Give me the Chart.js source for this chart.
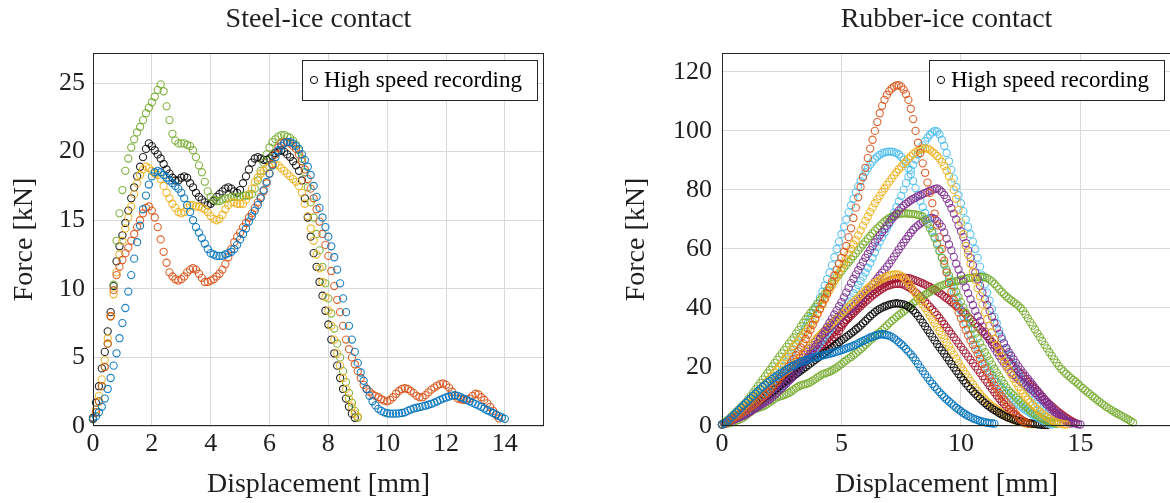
<!DOCTYPE html>
<html>
<head>
<meta charset="utf-8">
<script src="https://cdn.jsdelivr.net/npm/chart.js@4.4.0/dist/chart.umd.min.js"></script>
<style>
  html, body { margin: 0; padding: 0; background: #fff; width: 1170px; height: 503px; overflow: hidden; }
  .panel { position: absolute; top: 0; height: 503px; }
  #leftPanel { left: 0; width: 580px; }
  #rightPanel { left: 600px; width: 600px; }
</style>
</head>
<body>
<div class="panel" id="leftPanel"><canvas id="steelChart" width="580" height="503"></canvas></div>
<div class="panel" id="rightPanel"><canvas id="rubberChart" width="600" height="503"></canvas></div>
<script>
// force readings [kN], one value every STEP mm of displacement, starting at 0
const STEEL_STEP = 0.1;
const steelBlue = [
  0.5, 0.7, 1.0, 1.4, 2.0, 2.7, 3.5, 4.4, 5.3, 6.4,
  7.5, 8.6, 9.8, 11.0, 12.2, 13.4, 14.6, 15.8, 16.8, 17.6,
  18.2, 18.5, 18.6, 18.5, 18.3, 18.1, 17.9, 17.7, 17.5, 17.3,
  17.0, 16.6, 16.1, 15.6, 15.0, 14.5, 14.1, 13.7, 13.3, 12.9,
  12.6, 12.5, 12.4, 12.4, 12.4, 12.5, 12.6, 12.7, 12.9, 13.2,
  13.6, 14.0, 14.4, 14.9, 15.3, 15.7, 16.1, 16.6, 17.2, 17.8,
  18.4, 19.0, 19.6, 20.1, 20.4, 20.6, 20.7, 20.7, 20.6, 20.4,
  20.2, 19.8, 19.4, 18.9, 18.3, 17.5, 16.7, 15.9, 15.2, 14.5,
  13.8, 13.1, 12.3, 11.4, 10.4, 9.3, 8.3, 7.3, 6.3, 5.4,
  4.6, 3.9, 3.3, 2.7, 2.2, 1.8, 1.5, 1.25, 1.1, 1.0,
  0.93, 0.9, 0.9, 0.9, 0.92, 0.95, 1.0, 1.1, 1.2, 1.28,
  1.33, 1.38, 1.43, 1.48, 1.55, 1.62, 1.7, 1.8, 1.9, 2.0,
  2.08, 2.15, 2.22, 2.25, 2.2, 2.1, 2.0, 1.9, 1.8, 1.7,
  1.6, 1.5, 1.4, 1.28, 1.15, 1.05, 0.95, 0.85, 0.72, 0.62,
  0.52
];
const steelOrange = [
  0.5, 1.0, 1.8, 2.9, 4.3, 6.0, 8.0, 9.9, 11.0, 11.6,
  12.1, 12.6, 13.0, 13.5, 14.0, 14.5, 15.0, 15.5, 15.9, 16.0,
  15.7, 15.2, 14.5, 13.6, 12.7, 11.9, 11.2, 10.9, 10.7, 10.6,
  10.7, 10.9, 11.2, 11.4, 11.5, 11.4, 11.1, 10.8, 10.5, 10.5,
  10.6, 10.7, 10.9, 11.1, 11.4, 11.8, 12.3, 12.9, 13.4, 13.8,
  14.1, 14.5, 14.8, 15.2, 15.5, 15.9, 16.3, 16.7, 17.1, 17.7,
  18.4, 19.1, 19.8, 20.3, 20.6, 20.7, 20.7, 20.6, 20.4, 20.2,
  19.8, 19.3, 18.7, 18.0, 17.3, 16.6, 15.8, 14.9, 14.0, 13.2,
  12.4, 11.3, 10.2, 9.2, 8.3, 7.3, 6.3, 5.6, 5.0, 4.5,
  4.0, 3.5, 3.0, 2.7, 2.5, 2.3, 2.2, 2.1, 1.95, 1.85,
  1.8, 1.9, 2.1, 2.35, 2.55, 2.7, 2.75, 2.7, 2.55, 2.4,
  2.2, 2.1, 2.1, 2.25, 2.45, 2.65, 2.8, 2.95, 3.05, 3.1,
  3.0, 2.8, 2.5, 2.2, 2.0, 1.95, 1.9, 1.9, 2.0, 2.2,
  2.35, 2.3, 2.1, 1.9, 1.65, 1.4, 1.1, 0.8, 0.55
];
const steelYellow = [
  0.5, 1.2, 2.2, 3.4, 4.8, 6.4, 8.0, 9.6, 11.2, 12.5,
  13.5, 14.4, 15.2, 16.0, 16.9, 17.7, 18.3, 18.7, 18.9, 18.8,
  18.6, 18.4, 18.3, 18.0, 17.5, 17.0, 16.6, 16.2, 15.9, 15.6,
  15.5, 15.6, 15.9, 16.1, 16.1, 16.0, 16.0, 15.9, 15.8, 15.6,
  15.3, 15.1, 15.0, 15.1, 15.4, 15.8, 16.1, 16.3, 16.3, 16.2,
  16.2, 16.2, 16.5, 16.9, 17.3, 17.8, 18.1, 18.4, 18.6, 18.8,
  18.9, 19.0, 19.1, 19.0, 18.8, 18.6, 18.4, 18.2, 18.0, 17.8,
  17.5, 17.0, 16.2, 15.3, 14.4, 13.5, 12.5, 11.5, 10.5, 9.4,
  8.4, 7.3, 6.3, 5.3, 4.4, 3.5, 2.7, 2.0, 1.4, 0.9,
  0.7
];
const steelGreen = [
  0.5, 1.0, 1.8, 2.9, 4.3, 6.0, 8.0, 10.3, 13.5, 15.5,
  17.2, 18.6, 19.5, 20.3, 20.9, 21.4, 21.8, 22.3, 22.8, 23.2,
  23.6, 24.0, 24.5, 24.9, 24.4, 23.3, 22.3, 21.3, 20.8, 20.6,
  20.6, 20.6, 20.5, 20.4, 20.1, 19.6, 19.0, 18.5, 17.8, 17.1,
  16.7, 16.5, 16.4, 16.4, 16.5, 16.6, 16.6, 16.7, 16.7, 16.7,
  16.7, 16.8, 16.8, 16.8, 16.9, 17.3, 17.9, 18.6, 19.2, 19.8,
  20.3, 20.7, 20.9, 21.1, 21.2, 21.2, 21.1, 21.0, 20.8, 20.5,
  20.1, 19.5, 18.5, 17.4, 16.3, 15.2, 14.0, 12.8, 11.6, 10.4,
  9.3, 8.2, 7.1, 6.0, 5.0, 4.0, 3.2, 2.4, 1.7, 1.1,
  0.6
];
const steelBlack = [
  0.6, 1.7, 2.9, 4.2, 5.4, 6.9, 8.3, 10.2, 12.0, 13.1,
  13.9, 14.8, 15.7, 16.6, 17.4, 18.2, 18.9, 19.6, 20.2, 20.6,
  20.4, 20.1, 19.8, 19.5, 19.1, 18.7, 18.4, 18.1, 17.9, 17.9,
  18.1, 18.2, 18.1, 17.7, 17.4, 17.0, 16.7, 16.5, 16.3, 16.1,
  16.2, 16.4, 16.7, 16.9, 17.1, 17.3, 17.4, 17.3, 17.1, 17.0,
  17.2, 17.7, 18.2, 18.7, 19.2, 19.5, 19.6, 19.5, 19.4, 19.4,
  19.5, 19.7, 19.9, 20.0, 20.1, 20.0, 19.8, 19.6, 19.3, 19.0,
  18.6, 17.9, 16.6, 15.2, 13.8, 12.6, 11.6, 10.5, 9.5, 8.4,
  7.4, 6.3, 5.3, 4.4, 3.5, 2.7, 2.0, 1.4, 0.9, 0.6
];

const RUBBER_STEP = 0.1;
const rubberBlue = [
  0.5, 1.0, 1.5, 2.2, 3.0, 3.8, 4.6, 5.4, 6.2, 7.0,
  7.8, 8.6, 9.4, 10.2, 11.0, 11.8, 12.6, 13.3, 14.0, 14.7,
  15.3, 15.9, 16.5, 17.1, 17.6, 18.1, 18.6, 19.1, 19.6, 20.1,
  20.5, 20.9, 21.3, 21.7, 22.0, 22.3, 22.6, 22.9, 23.1, 23.3,
  23.5, 23.7, 23.9, 24.1, 24.3, 24.5, 24.7, 24.9, 25.2, 25.4,
  25.7, 26.0, 26.3, 26.6, 26.9, 27.2, 27.6, 28.0, 28.4, 28.8,
  29.2, 29.6, 30.0, 30.3, 30.6, 30.8, 31.0, 31.1, 31.0, 30.8,
  30.6, 30.2, 29.7, 29.1, 28.4, 27.7, 27.0, 26.1, 25.2, 24.3,
  23.3, 22.2, 21.0, 19.8, 18.6, 17.5, 16.4, 15.3, 14.3, 13.3,
  12.4, 11.5, 10.6, 9.8, 9.0, 8.3, 7.6, 6.9, 6.2, 5.6,
  5.0, 4.4, 3.9, 3.4, 3.0, 2.6, 2.3, 2.0, 1.7, 1.5,
  1.3, 1.1, 1.0, 0.9, 0.8
];
const rubberOrange = [
  0.5, 0.8, 1.2, 1.7, 2.2, 2.7, 3.2, 3.7, 4.2, 4.7,
  5.2, 5.8, 6.4, 7, 7.7, 8.3, 9, 9.7, 10.5, 11.2,
  12, 13, 14, 15, 16, 17, 18, 19.1, 20.3, 21.5,
  22.7, 24, 25.3, 26.6, 28, 29.5, 31, 32.6, 34.3, 36.1,
  38, 39.7, 41.5, 43.2, 45, 47, 49, 51, 53, 55,
  57, 59, 61, 64, 67, 70.5, 74, 77.5, 81, 84.3,
  87.5, 90.8, 94, 97, 100, 103, 106, 108.5, 110.5, 112.2,
  113.5, 114.4, 115, 115.4, 115.5, 115, 114, 112.5, 110.5, 107.5,
  104, 100, 96, 92.5, 89, 85.8, 82.5, 79, 75.5, 72,
  68, 64, 60, 56, 52, 48.5, 45.5, 42.8, 40.5, 38.5,
  36.5, 34.5, 32.5, 30.7, 29, 27.5, 26, 24.4, 22.8, 21.1,
  19.5, 18, 16.5, 15.1, 13.8, 12.5, 11.2, 10.1, 9, 8,
  7, 6, 5, 4, 3, 2.2, 1.6, 1.1, 0.8
];
const rubberYellowA = [
  0.5, 1.0, 1.6, 2.2, 2.9, 3.5, 4.2, 4.9, 5.6, 6.3,
  7.0, 7.9, 8.8, 9.7, 10.6, 11.5, 12.4, 13.3, 14.2, 15.1,
  16.0, 17.0, 18.0, 19.0, 20.0, 21.1, 22.3, 23.4, 24.6, 25.8,
  27.0, 28.0, 29.0, 30.0, 31.0, 32.0, 33.0, 34.1, 35.3, 36.6,
  38.0, 39.5, 41.0, 42.7, 44.5, 46.0, 47.5, 49.0, 50.5, 52.0,
  53.5, 55.0, 56.5, 58.2, 60.0, 61.5, 63.0, 64.6, 66.3, 67.9,
  69.5, 71.0, 72.5, 74.0, 75.5, 76.8, 78.0, 79.3, 80.5, 81.7,
  82.8, 83.9, 85.0, 86.0, 87.0, 87.9, 88.8, 89.7, 90.5, 91.4,
  92.2, 92.8, 93.3, 93.7, 94.0, 94.1, 94.0, 93.6, 93.0, 92.3,
  91.5, 90.6, 89.5, 88.1, 86.5, 84.6, 82.5, 80.0, 77.0, 73.2,
  69.0, 65.0, 61.0, 58.0, 55.0, 52.2, 49.5, 46.7, 44.0, 41.2,
  38.5, 36.2, 34.0, 31.7, 29.5, 27.5, 25.5, 23.7, 22.0, 20.5,
  19.0, 17.5, 16.0, 14.6, 13.3, 12.1, 11.0, 10.0, 9.0, 8.1,
  7.2, 6.4, 5.6, 4.9, 4.2, 3.6, 3.0, 2.5, 2.0, 1.6,
  1.3, 1.0, 0.8, 0.6, 0.5
];
const rubberYellowB = [
  0.5, 1.0, 1.5, 2.0, 2.6, 3.1, 3.7, 4.2, 4.8, 5.4,
  6.0, 6.7, 7.4, 8.1, 8.8, 9.5, 10.2, 10.9, 11.6, 12.3,
  13.0, 13.8, 14.6, 15.4, 16.2, 17.0, 17.8, 18.6, 19.4, 20.2,
  21.0, 21.9, 22.8, 23.7, 24.6, 25.5, 26.4, 27.3, 28.2, 29.1,
  30.0, 30.8, 31.6, 32.4, 33.2, 34.0, 34.8, 35.6, 36.4, 37.2,
  38.0, 38.8, 39.6, 40.4, 41.2, 42.0, 42.8, 43.6, 44.4, 45.2,
  46.0, 46.7, 47.3, 47.9, 48.5, 49.0, 49.5, 49.9, 50.3, 50.7,
  51.0, 51.2, 51.4, 51.4, 51.3, 50.9, 50.2, 49.4, 48.4, 47.2,
  46.0, 44.8, 43.6, 42.4, 41.2, 40.0, 38.7, 37.4, 36.1, 34.8,
  33.5, 32.2, 30.9, 29.6, 28.3, 27.0, 25.6, 24.2, 22.8, 21.4,
  20.0, 18.8, 17.6, 16.4, 15.2, 14.1, 13.0, 11.9, 10.9, 9.9,
  9.0, 8.2, 7.5, 6.8, 6.2, 5.6, 5.0, 4.4, 3.8, 3.3,
  2.8, 2.4, 2.1, 1.8, 1.6, 1.3, 1.1, 0.9, 0.8, 0.7,
  0.6
];
const rubberPurpleA = [
  0.5, 0.85, 1.2, 1.55, 1.9, 2.25, 2.6, 2.95, 3.3, 3.65,
  4.0, 4.5, 5.0, 5.5, 6.0, 6.5, 7.0, 7.5, 8.0, 8.5,
  9.0, 9.7, 10.5, 11.2, 12.0, 12.8, 13.6, 14.4, 15.3, 16.1,
  17.0, 18.0, 19.1, 20.1, 21.2, 22.3, 23.4, 24.5, 25.7, 26.8,
  28.0, 29.4, 30.8, 32.2, 33.6, 35.0, 36.4, 37.8, 39.2, 40.6,
  42.0, 43.6, 45.2, 46.8, 48.4, 49.9, 51.4, 52.8, 54.2, 55.6,
  57.0, 58.3, 59.6, 60.9, 62.2, 63.4, 64.6, 65.7, 66.8, 67.9,
  69.0, 70.0, 71.0, 72.0, 73.0, 73.9, 74.7, 75.3, 75.9, 76.5,
  77.0, 77.4, 77.8, 78.2, 78.6, 79.0, 79.3, 79.7, 80.0, 80.3,
  80.5, 80.1, 79.3, 78.3, 77.0, 75.5, 73.8, 72.0, 70.0, 68.0,
  66.0, 64.0, 62.0, 59.5, 57.0, 54.5, 52.0, 49.7, 47.5, 45.2,
  43.0, 41.0, 39.0, 37.0, 35.0, 33.1, 31.3, 29.6, 28.0, 26.5,
  25.0, 23.8, 22.6, 21.4, 20.2, 19.1, 18.0, 17.0, 16.0, 15.0,
  14.0, 13.0, 12.0, 11.0, 10.0, 9.0, 8.1, 7.2, 6.3, 5.4,
  4.5, 3.8, 3.2, 2.6, 2.0, 1.6, 1.2, 1.0, 0.8, 0.6,
  0.5
];
const rubberPurpleB = [
  0.5, 0.8, 1.1, 1.45, 1.8, 2.15, 2.5, 2.85, 3.2, 3.6,
  4.0, 4.55, 5.1, 5.7, 6.3, 6.9, 7.5, 8.1, 8.7, 9.35,
  10.0, 10.9, 11.8, 12.7, 13.6, 14.5, 15.4, 16.3, 17.2, 18.1,
  19.0, 20.0, 21.1, 22.1, 23.2, 24.2, 25.3, 26.3, 27.4, 28.5,
  29.5, 30.2, 31.0, 31.7, 32.5, 33.2, 34.0, 34.7, 35.5, 36.2,
  37.0, 37.7, 38.4, 39.1, 39.8, 40.6, 41.4, 42.3, 43.2, 44.1,
  45.0, 46.0, 47.0, 48.0, 49.0, 50.0, 51.0, 52.0, 53.0, 54.0,
  55.0, 56.2, 57.4, 58.6, 59.8, 61.0, 62.2, 63.3, 64.4, 65.5,
  66.5, 67.3, 68.0, 68.6, 69.2, 69.7, 70.1, 70.4, 70.5, 70.2,
  69.5, 68.6, 67.5, 65.6, 63.5, 61.5, 59.5, 57.3, 55.0, 53.0,
  51.0, 49.0, 47.0, 45.0, 43.0, 41.0, 39.0, 37.2, 35.5, 33.7,
  32.0, 30.5, 29.0, 27.6, 26.3, 25.0, 23.8, 22.5, 21.3, 20.1,
  19.0, 18.1, 17.3, 16.5, 15.8, 15.1, 14.5, 13.8, 13.2, 12.6,
  12.0, 11.2, 10.4, 9.6, 8.8, 8.0, 7.2, 6.4, 5.6, 4.8,
  4.0, 3.4, 2.8, 2.2, 1.6, 1.2, 0.8
];
const rubberGreenA = [
  0.5, 1.1, 1.8, 2.5, 3.2, 4.0, 4.8, 5.6, 6.4, 7.2,
  8.0, 9.1, 10.2, 11.3, 12.4, 13.5, 14.6, 15.7, 16.8, 17.9,
  19.0, 20.2, 21.3, 22.4, 23.5, 24.6, 25.7, 26.8, 27.9, 29.0,
  30.0, 31.3, 32.5, 33.8, 35.0, 36.1, 37.2, 38.3, 39.3, 40.4,
  41.5, 42.6, 43.7, 44.8, 45.9, 47.0, 48.1, 49.2, 50.3, 51.4,
  52.5, 53.5, 54.5, 55.5, 56.5, 57.5, 58.5, 59.5, 60.5, 61.5,
  62.5, 63.5, 64.4, 65.3, 66.2, 67.0, 67.8, 68.6, 69.3, 69.9,
  70.5, 70.9, 71.3, 71.6, 71.9, 72.0, 72.1, 72.1, 72.0, 71.9,
  71.8, 71.7, 71.5, 71.3, 71.0, 69.9, 68.5, 67.0, 65.5, 63.6,
  61.5, 59.2, 57.0, 55.0, 53.0, 51.0, 49.0, 47.2, 45.5, 43.7,
  42.0, 40.2, 38.4, 36.6, 34.8, 33.0, 31.3, 29.7, 28.1, 26.5,
  25.0, 23.6, 22.2, 20.8, 19.4, 18.1, 16.8, 15.5, 14.3, 13.1,
  12.0, 11.2, 10.4, 9.6, 8.8, 8.0, 7.3, 6.6, 5.9, 5.2,
  4.5, 4.0, 3.5, 3.0, 2.5, 2.1, 1.7, 1.4, 1.1, 0.9,
  0.7
];
const rubberGreenB = [
  0.5, 0.65, 0.8, 1.0, 1.2, 1.5, 1.8, 2.1, 2.4, 2.9,
  3.5, 4.2, 4.8, 5.4, 5.8, 6.1, 6.3, 6.6, 7.0, 7.5,
  8.0, 8.6, 9.2, 9.7, 10.0, 10.2, 10.5, 10.8, 11.2, 11.7,
  12.3, 12.9, 13.4, 13.8, 14.0, 14.2, 14.5, 14.9, 15.4, 15.9,
  16.5, 17.0, 17.5, 17.8, 18.1, 18.4, 18.8, 19.3, 19.8, 20.4,
  21.0, 21.7, 22.3, 22.9, 23.4, 24.0, 24.6, 25.3, 26.0, 26.7,
  27.5, 28.3, 29.0, 29.7, 30.4, 31.1, 31.8, 32.5, 33.3, 34.0,
  34.8, 35.6, 36.3, 37.0, 37.6, 38.2, 38.8, 39.5, 40.2, 40.9,
  41.6, 42.3, 43.0, 43.5, 44.0, 44.5, 45.0, 45.5, 46.0, 46.5,
  46.9, 47.3, 47.6, 47.9, 48.2, 48.5, 48.7, 48.9, 49.1, 49.3,
  49.5, 49.7, 49.9, 50.1, 50.2, 50.3, 50.4, 50.5, 50.6, 50.5,
  50.4, 50.1, 49.6, 49.0, 48.2, 47.3, 46.4, 45.5, 44.7, 43.9,
  43.2, 42.6, 42.0, 41.4, 40.8, 40.0, 39.0, 37.8, 36.5, 35.2,
  34.0, 32.7, 31.4, 30.1, 28.8, 27.5, 26.3, 25.0, 23.8, 22.6,
  21.4, 20.3, 19.3, 18.5, 17.7, 17.0, 16.3, 15.6, 15.0, 14.3,
  13.5, 12.8, 12.1, 11.4, 10.8, 10.1, 9.5, 8.8, 8.2, 7.6,
  7.0, 6.4, 5.9, 5.4, 4.9, 4.4, 4.0, 3.5, 3.1, 2.6,
  2.2, 1.7, 1.2
];
const rubberCyanA = [
  0.5, 0.8, 1.2, 1.6, 2, 2.4, 2.9, 3.4, 3.9, 4.4,
  5, 5.6, 6.3, 7, 7.7, 8.5, 9.3, 10.2, 11.1, 12,
  13, 14.1, 15.3, 16.5, 17.7, 19, 20.3, 21.7, 23.1, 24.5,
  26, 27.5, 29, 30.5, 32, 33.5, 35.1, 36.6, 38.2, 39.8,
  41.5, 43.5, 45.5, 47.6, 49.8, 52, 54.5, 57.2, 60, 62.5,
  65, 67.5, 70, 72.4, 74.8, 77, 79.2, 81.2, 83, 84.6,
  86, 87.3, 88.5, 89.6, 90.5, 91.3, 91.9, 92.4, 92.7, 92.9,
  93, 93, 92.8, 92.5, 92, 91.2, 90.2, 88.9, 87.3, 85.3,
  83, 80.6, 78.3, 76.2, 74.2, 72.2, 70.2, 68.2, 66.2, 64.1,
  62, 59.5, 57, 54.6, 52.3, 50, 47.8, 45.5, 43.3, 41.1,
  39, 37, 35, 33, 31, 29.2, 27.4, 25.7, 24, 22.5,
  21.1, 19.7, 18.4, 17.2, 16, 14.9, 13.9, 12.9, 12, 11.1,
  10.3, 9.5, 8.7, 8, 7.3, 6.7, 6.1, 5.5, 5, 4.4,
  3.9, 3.4, 2.9, 2.4, 2, 1.6, 1.2, 0.9, 0.6
];
const rubberCyanB = [
  0.5, 0.9, 1.4, 1.9, 2.4, 2.9, 3.3, 3.8, 4.2, 4.6,
  5, 5.5, 6, 6.5, 7, 7.5, 8, 8.5, 9, 9.5,
  10, 10.6, 11.3, 12, 12.6, 13.3, 14, 14.8, 15.5, 16.3,
  17, 17.9, 18.8, 19.8, 20.8, 21.8, 22.8, 23.8, 24.9, 25.9,
  27, 28.1, 29.2, 30.3, 31.4, 32.5, 33.6, 34.7, 35.8, 36.9,
  38, 39.4, 40.8, 42.2, 43.6, 45, 46.4, 47.8, 49.2, 50.6,
  52, 53.6, 55.3, 57, 58.8, 60.7, 62.5, 64, 65.5, 67,
  68.5, 70.4, 72.3, 74.2, 76.1, 78, 80.1, 82.3, 84.5, 86.7,
  88.5, 90.3, 92, 93.6, 95.1, 96.5, 97.7, 98.7, 99.5, 100,
  99.8, 98.8, 97, 94.9, 92.5, 89.7, 86.8, 83.9, 81, 78.2,
  75.5, 72.8, 70, 67.5, 65, 62.5, 60, 57, 54, 51,
  48, 45.2, 42.5, 39.7, 37, 34.8, 32.5, 30.3, 28.2, 26,
  24.2, 22.4, 20.7, 19, 17.6, 16.2, 14.8, 13.5, 12.4, 11.2,
  10, 8.8, 7.5, 6.4, 5.3, 4.2, 3.2, 2.5, 1.8, 1.2,
  0.8
];
const rubberRedA = [
  0.5, 0.7, 1.0, 1.5, 2.0, 2.7, 3.2, 3.6, 4.0, 4.4,
  5.0, 6.0, 7.0, 8.0, 8.8, 9.4, 9.8, 10.1, 10.4, 10.7,
  11.2, 11.9, 12.6, 13.3, 14.0, 14.6, 15.2, 15.7, 16.2, 16.8,
  17.5, 18.5, 19.5, 20.5, 21.3, 21.9, 22.5, 23.0, 23.6, 24.2,
  24.8, 25.5, 26.2, 26.9, 27.6, 28.4, 29.2, 30.1, 31.0, 32.2,
  33.5, 34.8, 36.0, 37.0, 38.0, 38.9, 39.8, 40.7, 41.6, 42.5,
  43.4, 44.2, 45.0, 45.7, 46.3, 46.9, 47.4, 47.9, 48.4, 48.8,
  49.2, 49.5, 49.8, 50.0, 50.2, 50.3, 50.3, 50.2, 50.1, 49.9,
  49.6, 49.3, 49.0, 48.7, 48.3, 47.9, 47.5, 47.1, 46.6, 46.1,
  45.6, 45.1, 44.5, 43.9, 43.3, 42.7, 42.0, 41.4, 40.8, 40.1,
  39.3, 38.6, 37.8, 37.0, 36.2, 35.4, 34.6, 33.7, 32.8, 32.0,
  31.1, 30.3, 29.4, 28.5, 27.6, 26.7, 25.8, 24.9, 23.9, 23.0,
  22.0, 21.1, 20.2, 19.4, 18.5, 17.7, 16.8, 15.9, 15.0, 14.2,
  13.3, 12.5, 11.6, 10.8, 9.9, 9.0, 8.2, 7.4, 6.7, 6.0,
  5.3, 4.6, 4.0, 3.4, 2.8, 2.3, 1.8, 1.4, 1.0
];
const rubberRedB = [
  0.5, 0.9, 1.3, 1.75, 2.2, 2.7, 3.2, 3.7, 4.2, 4.75,
  5.3, 5.9, 6.5, 7.1, 7.7, 8.35, 9.0, 9.65, 10.3, 10.95,
  11.6, 12.3, 13.0, 13.7, 14.4, 15.1, 15.8, 16.5, 17.2, 17.95,
  18.7, 19.45, 20.2, 20.95, 21.7, 22.45, 23.2, 23.95, 24.7, 25.45,
  26.2, 27.0, 27.8, 28.6, 29.4, 30.2, 31.0, 31.8, 32.6, 33.4,
  34.2, 35.0, 35.8, 36.6, 37.4, 38.2, 39.0, 39.8, 40.6, 41.4,
  42.1, 42.8, 43.5, 44.2, 44.8, 45.4, 46.0, 46.5, 47.0, 47.4,
  47.7, 47.9, 48.1, 48.2, 48.2, 48.1, 47.9, 47.5, 47.1, 46.6,
  46.0, 45.3, 44.6, 43.8, 43.0, 42.2, 41.3, 40.4, 39.5, 38.6,
  37.6, 36.6, 35.5, 34.5, 33.4, 32.3, 31.2, 30.1, 29.0, 27.9,
  26.8, 25.7, 24.6, 23.5, 22.4, 21.3, 20.2, 19.1, 18.0, 16.9,
  15.8, 14.7, 13.6, 12.5, 11.4, 10.3, 9.3, 8.3, 7.4, 6.5,
  5.7, 4.9, 4.2, 3.5, 2.9, 2.3, 1.8, 1.4, 1.0
];
const rubberBlack = [
  0.5, 0.9, 1.3, 1.75, 2.2, 2.65, 3.1, 3.55, 4.0, 4.5,
  5.0, 5.6, 6.2, 6.8, 7.4, 8.0, 8.6, 9.2, 9.8, 10.4,
  11.0, 11.6, 12.2, 12.8, 13.4, 14.0, 14.6, 15.2, 15.8, 16.4,
  17.0, 17.6, 18.2, 18.8, 19.4, 20.0, 20.6, 21.2, 21.8, 22.4,
  23.0, 23.6, 24.2, 24.8, 25.4, 26.0, 26.6, 27.2, 27.8, 28.4,
  29.0, 29.6, 30.2, 30.8, 31.4, 32.0, 32.7, 33.3, 34.0, 34.8,
  35.6, 36.4, 37.2, 37.9, 38.6, 39.2, 39.7, 40.1, 40.5, 40.8,
  41.1, 41.3, 41.5, 41.6, 41.5, 41.4, 41.2, 40.9, 40.5, 39.9,
  39.2, 38.3, 37.3, 36.2, 35.0, 33.8, 32.6, 31.4, 30.2, 29.0,
  27.8, 26.7, 25.6, 24.5, 23.3, 22.2, 21.0, 19.8, 18.7, 17.6,
  16.5, 15.5, 14.5, 13.5, 12.6, 11.7, 10.9, 10.1, 9.3, 8.5,
  7.8, 7.1, 6.5, 5.9, 5.4, 4.9, 4.4, 3.9, 3.5, 3.1,
  2.8, 2.5, 2.2, 1.9, 1.7, 1.5, 1.3, 1.15, 1.0, 0.9,
  0.8, 0.7, 0.6, 0.5, 0.4, 0.35, 0.3
];

const steelXTicks = [0, 2, 4, 6, 8, 10, 12, 14];
const steelYTicks = [0, 5, 10, 15, 20, 25];
const rubberXTicks = [0, 5, 10, 15];
const rubberYTicks = [0, 20, 40, 60, 80, 100, 120];
const LEGEND_TEXT = 'High speed recording';

const SERIF = '"Liberation Serif", "DejaVu Serif", serif';
const INK = '#1f1f1f';
const GRID = '#d9d9d9';
const C = {
  blue: 'rgba(0,114,189,0.9)', orange: 'rgba(217,83,25,0.9)', yellow: 'rgba(237,177,32,0.9)',
  purple: 'rgba(126,47,142,0.9)', green: 'rgba(119,172,48,0.9)', cyan: 'rgba(77,190,238,0.9)',
  red: 'rgba(162,20,47,0.9)', black: 'rgba(0,0,0,0.85)'
};

function series(label, forces, step, color) {
  return {
    label,
    data: forces.map((f, i) => ({ x: Math.round(i * step * 100) / 100, y: f })),
    borderColor: color,
    backgroundColor: 'rgba(0,0,0,0)',
    pointStyle: 'circle',
    pointRadius: 3.6,
    pointBorderWidth: 1.1,
    showLine: false,
    clip: false,
  };
}

const framePlugin = {
  id: 'frame',
  afterDatasetsDraw(chart) {
    const { ctx, chartArea: a } = chart;
    ctx.save();
    ctx.strokeStyle = '#262626';
    ctx.lineWidth = 1;
    ctx.strokeRect(Math.round(a.left) + 0.5, Math.round(a.top) + 0.5,
      Math.round(a.right - a.left) - 1, Math.round(a.bottom - a.top) - 1);
    ctx.restore();
  },
};

const legendBoxPlugin = {
  id: 'legendBox',
  afterDraw(chart, args, opts) {
    const { ctx, chartArea: a } = chart;
    ctx.save();
    ctx.font = '23px ' + SERIF;
    const tw = ctx.measureText(opts.text).width;
    const w = Math.round(tw + 37), h = 40;
    const x = Math.round(a.right - opts.margin - w), y = Math.round(a.top + opts.margin);
    ctx.fillStyle = '#fff';
    ctx.fillRect(x, y, w, h);
    ctx.strokeStyle = '#262626';
    ctx.lineWidth = 1;
    ctx.strokeRect(x + 0.5, y + 0.5, w, h);
    ctx.beginPath();
    ctx.arc(x + 12, y + h / 2, 3.6, 0, Math.PI * 2);
    ctx.strokeStyle = '#000';
    ctx.stroke();
    ctx.fillStyle = '#000';
    ctx.textBaseline = 'middle';
    ctx.fillText(opts.text, x + 22, y + h / 2 + 1);
    ctx.restore();
  },
};

function buildChart(canvasId, p) {
  const tickFont = { family: SERIF, size: 26 };
  const labelFont = { family: SERIF, size: 28 };
  return new Chart(document.getElementById(canvasId), {
    type: 'scatter',
    data: { datasets: p.datasets },
    options: {
      responsive: false,
      animation: false,
      events: [],
      layout: { padding: { left: 0, right: p.padRight, top: 0, bottom: 0 } },
      plugins: {
        legend: { display: false },
        tooltip: { enabled: false },
        title: {
          display: true, fullSize: false, text: p.title, color: INK,
          font: { family: SERIF, size: 28, weight: 'normal' },
          padding: { top: 3, bottom: 16.4 },
        },
        legendBox: { text: LEGEND_TEXT, margin: 7 },
      },
      scales: {
        x: {
          type: 'linear', min: 0, max: p.xMax,
          afterBuildTicks: (s) => { s.ticks = p.xTicks.map((v) => ({ value: v })); },
          afterFit: (s) => { s.height = 77; },
          grid: { color: GRID, drawTicks: false },
          border: { display: false },
          ticks: { padding: 3, font: tickFont, color: INK, maxRotation: 0, autoSkip: false },
          title: { display: true, text: 'Displacement [mm]', font: labelFont, color: INK, padding: { top: 0, bottom: 2 } },
        },
        y: {
          type: 'linear', min: 0, max: p.yMax,
          afterBuildTicks: (s) => { s.ticks = p.yTicks.map((v) => ({ value: v })); },
          afterFit: (s) => { s.width = p.yWidth; },
          grid: { color: GRID, drawTicks: false },
          border: { display: false },
          ticks: { padding: p.yTickPad, font: tickFont, color: INK, autoSkip: false },
          title: { display: true, text: 'Force [kN]', font: labelFont, color: INK, padding: { top: p.yTitlePad, bottom: 0 } },
        },
      },
    },
    plugins: [framePlugin, legendBoxPlugin],
  });
}

buildChart('steelChart', {
  title: 'Steel-ice contact',
  xMax: 15.33, yMax: 27.19,
  xTicks: steelXTicks, yTicks: steelYTicks,
  yWidth: 93, padRight: 36, yTickPad: 8, yTitlePad: 8,
  datasets: [
    series('blue', steelBlue, STEEL_STEP, C.blue),
    series('orange', steelOrange, STEEL_STEP, C.orange),
    series('yellow', steelYellow, STEEL_STEP, C.yellow),
    series('green', steelGreen, STEEL_STEP, C.green),
    series('black', steelBlack, STEEL_STEP, C.black),
  ],
});

buildChart('rubberChart', {
  title: 'Rubber-ice contact',
  xMax: 18.79, yMax: 126.4,
  xTicks: rubberXTicks, yTicks: rubberYTicks,
  yWidth: 122, padRight: 29, yTickPad: 10, yTitlePad: 20,
  datasets: [
    series('blue', rubberBlue, RUBBER_STEP, C.blue),
    series('orange', rubberOrange, RUBBER_STEP, C.orange),
    series('yellow A', rubberYellowA, RUBBER_STEP, C.yellow),
    series('purple A', rubberPurpleA, RUBBER_STEP, C.purple),
    series('green A', rubberGreenA, RUBBER_STEP, C.green),
    series('cyan A', rubberCyanA, RUBBER_STEP, C.cyan),
    series('black', rubberBlack, RUBBER_STEP, C.black),
    series('yellow B', rubberYellowB, RUBBER_STEP, C.yellow),
    series('purple B', rubberPurpleB, RUBBER_STEP, C.purple),
    series('green B', rubberGreenB, RUBBER_STEP, C.green),
    series('cyan B', rubberCyanB, RUBBER_STEP, C.cyan),
    series('red B', rubberRedB, RUBBER_STEP, C.red),
    series('red A', rubberRedA, RUBBER_STEP, C.red),
  ],
});
</script>
</body>
</html>
